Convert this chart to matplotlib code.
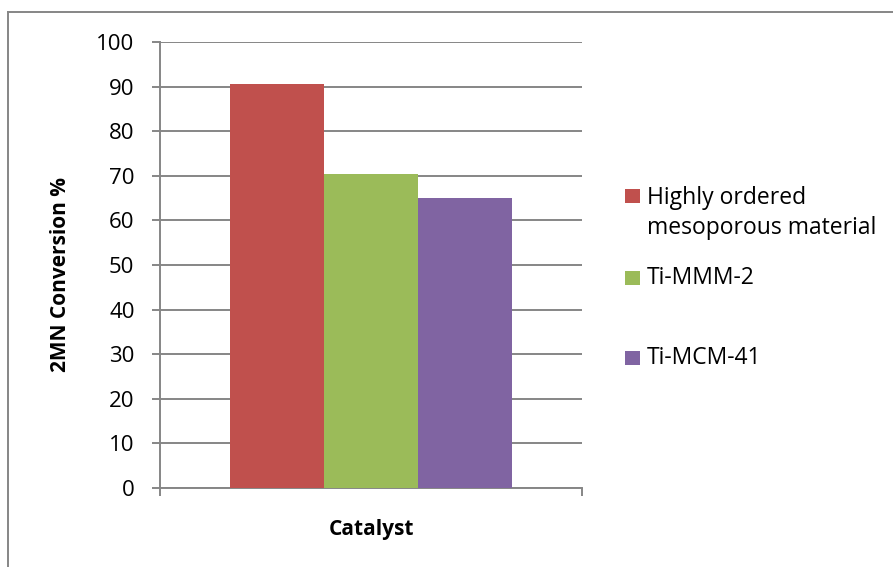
import matplotlib
matplotlib.use("Agg")
import matplotlib.pyplot as plt
from matplotlib.patches import Rectangle
from matplotlib.lines import Line2D

series = ["Highly ordered\nmesoporous material", "Ti-MMM-2", "Ti-MCM-41"]
values = [90.5, 70.5, 65.0]
colors = ["#C0504D", "#9BBB59", "#8064A2"]
yticks = [0, 10, 20, 30, 40, 50, 60, 70, 80, 90, 100]
xlabel = "Catalyst"
ylabel = "2MN Conversion %"

plt.rcParams["font.family"] = ["Open Sans", "DejaVu Sans"]

W, H = 893, 567
fig = plt.figure(figsize=(W / 100, H / 100), dpi=100)
fig.patch.set_facecolor("white")

ax = fig.add_axes([159.5 / W, 1 - 488 / H, 423 / W, 446 / H])

grid_c = "#868686"
bw = 0.2222
offsets = [-bw, 0.0, bw]
for off, v, c in zip(offsets, values, colors):
    ax.bar(off, v, width=bw, color=c, zorder=3, linewidth=0)

ax.set_xlim(-0.5, 0.5)
ax.set_ylim(0, 100)
ax.set_yticks(yticks)
ax.set_yticklabels([str(t) for t in yticks], fontsize=16)
ax.yaxis.grid(True, color=grid_c, linewidth=1.4, zorder=0)
ax.set_axisbelow(True)
ax.tick_params(axis="y", length=6, width=1.4, color=grid_c, pad=12)
ax.set_xticks([-0.5, 0.5])
ax.set_xticklabels([])
ax.tick_params(axis="x", length=6, width=1.4, color=grid_c, direction="out")
for s in ["top", "right"]:
    ax.spines[s].set_visible(False)
for s in ["left", "bottom"]:
    ax.spines[s].set_color(grid_c)
    ax.spines[s].set_linewidth(1.4)

fig.text(371 / W, 1 - 530 / H, xlabel, ha="center", va="center",
         fontsize=15, fontweight="bold")
fig.text(61 / W, 1 - 274 / H, ylabel, ha="center", va="center",
         rotation=90, fontsize=15, fontweight="bold")

# legend, drawn in figure pixels
leg_y = [213, 278, 357.5]
for lab, c, yc in zip(series, colors, leg_y):
    sq_y = yc if "\n" not in lab else 196
    fig.patches.append(Rectangle((625 / W, 1 - (sq_y + 7) / H), 15 / W, 14 / H,
                                 transform=fig.transFigure, facecolor=c,
                                 edgecolor="none"))
    fig.text(647 / W, 1 - yc / H, lab, ha="left", va="center",
             fontsize=16.5, linespacing=1.38)

# chart frame
fig.lines.append(Line2D([8 / W, 8 / W], [0, 1 - 12 / H], transform=fig.transFigure,
                        color=grid_c, linewidth=1.4))
fig.lines.append(Line2D([8 / W, 1], [1 - 12 / H, 1 - 12 / H], transform=fig.transFigure,
                        color=grid_c, linewidth=1.4))

fig.savefig("out.png", dpi=100)
